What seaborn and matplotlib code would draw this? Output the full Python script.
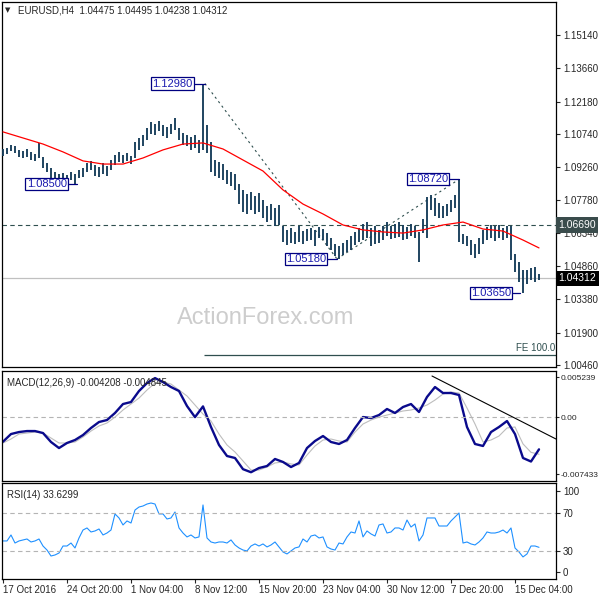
import numpy as np
import pandas as pd
import matplotlib
matplotlib.use('Agg')
import matplotlib.pyplot as plt
import matplotlib.transforms as mtransforms
import seaborn as sns

# EURUSD H4 bars (one entry per two candles)
bar_high = [1.1007, 1.1011, 1.1025, 1.1020, 1.1003, 1.0998, 1.1007, 1.0994, 1.0985, 1.1034,
            1.0971, 1.0945, 1.0922, 1.0905, 1.0896, 1.0900, 1.0891, 1.0905, 1.0896, 1.0914,
            1.0922, 1.0945, 1.0954, 1.0936, 1.0927, 1.0945, 1.0931, 1.0958, 1.0980, 1.0994,
            1.0980, 1.0989, 1.0976, 1.1038, 1.1056, 1.1069, 1.1100, 1.1127, 1.1118, 1.1132,
            1.1114, 1.1105, 1.1118, 1.1145, 1.1100, 1.1078, 1.1069, 1.1060, 1.1069, 1.1047,
            1.1298, 1.1114, 1.1038, 1.0958, 1.0949, 1.0940, 1.0914, 1.0905, 1.0896, 1.0851,
            1.0825, 1.0807, 1.0816, 1.0798, 1.0811, 1.0780, 1.0753, 1.0762, 1.0745, 1.0758,
            1.0664, 1.0647, 1.0656, 1.0638, 1.0664, 1.0642, 1.0651, 1.0656, 1.0647, 1.0660,
            1.0651, 1.0633, 1.0611, 1.0584, 1.0575, 1.0589, 1.0602, 1.0620, 1.0638, 1.0656,
            1.0673, 1.0682, 1.0656, 1.0664, 1.0647, 1.0664, 1.0682, 1.0664, 1.0673, 1.0682,
            1.0669, 1.0660, 1.0673, 1.0664, 1.0638, 1.0696, 1.0793, 1.0802, 1.0789, 1.0767,
            1.0753, 1.0762, 1.0780, 1.0802, 1.0872, 1.0629, 1.0620, 1.0602, 1.0584, 1.0611,
            1.0647, 1.0660, 1.0669, 1.0664, 1.0669, 1.0656, 1.0664, 1.0664, 1.0540, 1.0504,
            1.0469, 1.0469, 1.0478, 1.0482, 1.04495]
bar_low = [1.0976, 1.0985, 1.0998, 1.0989, 1.0971, 1.0967, 1.0971, 1.0958, 1.0954, 1.0967,
           1.0922, 1.0905, 1.0878, 1.0869, 1.0856, 1.0865, 1.0856, 1.0869, 1.0850, 1.0878,
           1.0882, 1.0905, 1.0914, 1.0887, 1.0882, 1.0896, 1.0887, 1.0914, 1.0936, 1.0949,
           1.0945, 1.0954, 1.0940, 1.0967, 1.1003, 1.1020, 1.1047, 1.1074, 1.1069, 1.1087,
           1.1065, 1.1056, 1.1074, 1.1091, 1.1047, 1.1025, 1.1020, 1.1003, 1.1011, 1.0989,
           1.1003, 1.0989, 1.0905, 1.0887, 1.0878, 1.0869, 1.0851, 1.0842, 1.0825, 1.0762,
           1.0727, 1.0718, 1.0736, 1.0718, 1.0727, 1.0700, 1.0682, 1.0691, 1.0664, 1.0669,
           1.0593, 1.0580, 1.0589, 1.0584, 1.0593, 1.0584, 1.0598, 1.0602, 1.0575, 1.0611,
           1.0602, 1.0575, 1.0558, 1.0531, 1.0518, 1.0535, 1.0549, 1.0558, 1.0580, 1.0593,
           1.0602, 1.0611, 1.0575, 1.0584, 1.0589, 1.0602, 1.0620, 1.0607, 1.0611, 1.0616,
           1.0602, 1.0607, 1.0620, 1.0611, 1.0504, 1.0633, 1.0611, 1.0736, 1.0709, 1.0700,
           1.0700, 1.0709, 1.0727, 1.0745, 1.0593, 1.0584, 1.0575, 1.0535, 1.0522, 1.0540,
           1.0584, 1.0602, 1.0611, 1.0598, 1.0611, 1.0602, 1.0611, 1.0513, 1.0460, 1.0415,
           1.0365, 1.0406, 1.0424, 1.0415, 1.04238]

# moving average (red)
ma_idx = [0, 5, 10, 15, 20, 25, 30, 35, 40, 45, 50, 55, 60, 65, 70, 75, 80, 85, 90, 95,
          100, 105, 110, 115, 120, 125, 130, 134]
ma_values = [1.1083, 1.1056, 1.1029, 1.0994, 1.0954, 1.0940, 1.0940, 1.0967, 1.1003, 1.1029,
             1.1034, 1.1007, 1.0958, 1.0909, 1.0825, 1.0762, 1.0718, 1.0669, 1.0647, 1.0638,
             1.0633, 1.0647, 1.0669, 1.0682, 1.0651, 1.0642, 1.0602, 1.0567]

# MACD(12,26,9), every second bar
macd_main = [-0.00321, -0.00221, -0.00195, -0.00182, -0.00182, -0.00208, -0.00325, -0.00404, -0.00338, -0.00299,
             -0.00234, -0.00142, -0.00064, -0.00038, 0.00054, 0.00171, 0.00197, 0.00341, 0.00445, 0.00510,
             0.00458, 0.00393, 0.00341, 0.00145, 0.00000, 0.00140, -0.00129, -0.00364, -0.00508, -0.00534,
             -0.00680, -0.00720, -0.00665, -0.00639, -0.00547, -0.00586, -0.00652, -0.00599, -0.00404, -0.00312,
             -0.00247, -0.00325, -0.00351, -0.00299, -0.00142, 0.00001, -0.00012, 0.00027, 0.00106, 0.00054,
             0.00132, 0.00171, 0.00067, 0.00263, 0.00393, 0.00315, 0.00315, 0.00289, -0.00129, -0.00351,
             -0.00377, -0.00195, -0.00129, -0.00051, -0.00221, -0.00534, -0.00580, -0.00421]
macd_signal = [-0.00338, -0.00286, -0.00221, -0.00208, -0.00195, -0.00208, -0.00273, -0.00338, -0.00338, -0.00325,
               -0.00260, -0.00182, -0.00116, -0.00077, 0.00000, 0.00093, 0.00171, 0.00249, 0.00354, 0.00445,
               0.00458, 0.00432, 0.00354, 0.00276, 0.00158, 0.00040, -0.00051, -0.00221, -0.00364, -0.00456,
               -0.00573, -0.00691, -0.00691, -0.00652, -0.00599, -0.00586, -0.00612, -0.00625, -0.00495, -0.00377,
               -0.00299, -0.00286, -0.00312, -0.00325, -0.00195, -0.00090, -0.00038, 0.00000, 0.00027, 0.00054,
               0.00080, 0.00093, 0.00119, 0.00158, 0.00223, 0.00302, 0.00328, 0.00315, 0.00119, -0.00090,
               -0.00325, -0.00299, -0.00247, -0.00142, -0.00129, -0.00350, -0.00460, -0.00485]

# RSI(14), one per bar
rsi = [40.4, 40.4, 46.8, 38.2, 40.4, 41.5, 42.5, 39.3, 40.4, 42.5,
       35.0, 30.7, 24.3, 25.4, 27.5, 35.0, 35.0, 38.2, 32.9, 43.6,
       52.1, 54.3, 50.0, 51.1, 53.2, 46.8, 48.9, 52.1, 69.3, 65.0,
       57.5, 61.8, 59.6, 73.5, 76.7, 77.8, 79.9, 81.0, 79.9, 69.3,
       69.3, 63.9, 65.0, 71.4, 54.3, 48.9, 44.7, 46.8, 43.6, 44.7,
       78.9, 43.6, 39.3, 38.2, 39.3, 39.3, 38.2, 41.5, 36.1, 32.9,
       30.7, 29.7, 35.0, 37.2, 35.0, 37.2, 34.0, 36.1, 39.3, 34.0,
       28.6, 26.5, 29.7, 32.9, 34.0, 42.5, 39.3, 45.7, 46.8, 43.6,
       44.7, 34.0, 31.8, 30.7, 38.2, 37.2, 44.7, 50.0, 48.9, 61.8,
       44.7, 51.1, 47.9, 45.7, 57.5, 58.6, 48.9, 50.0, 54.3, 54.3,
       52.1, 62.8, 55.3, 58.6, 40.4, 46.8, 65.0, 65.0, 65.0, 56.4,
       56.4, 56.4, 61.8, 66.0, 70.3, 38.2, 39.3, 37.2, 36.1, 39.3,
       43.6, 50.0, 48.9, 48.9, 50.0, 52.1, 48.9, 54.3, 32.9, 28.6,
       23.3, 26.5, 35.0, 35.0, 33.6]

price_ticks = [1.00460, 1.01900, 1.03380, 1.04860, 1.06340, 1.07780,
               1.09260, 1.10740, 1.12180, 1.13660, 1.15140]
x_ticks = [0, 16, 32, 48, 64, 80, 96, 112, 128]
x_labels = ['17 Oct 2016', '24 Oct 20:00', '1 Nov 04:00', '8 Nov 12:00', '15 Nov 20:00',
            '23 Nov 04:00', '30 Nov 12:00', '7 Dec 20:00', '15 Dec 04:00']

# swing points for the labels: (bar, price, text, box centre bar, connector start)
swings = [(50.5, 1.1298, '1.12980', 42.4, 47.6),
          (18.5, 1.0850, '1.08500', 10.9, 16.0),
          (83.5, 1.0518, '1.05180', 75.8, 81.0),
          (114.0, 1.0872, '1.08720', 106.3, 111.5),
          (129.3, 1.0365, '1.03650', 122.0, 127.2)]

sns.set_style('white')
plt.rcParams['font.family'] = ['Liberation Sans', 'DejaVu Sans']
plt.rcParams['font.size'] = 7

BAR = '#173d5a'
DARK = '#2f4f4f'
XLIM = (-0.25, 138.25)

fig = plt.figure(figsize=(6, 6), dpi=100)
ax = fig.add_axes([2/600, 1 - 367/600, 554/600, 365/600])
ax2 = fig.add_axes([2/600, 1 - 480.5/600, 554/600, 110/600])
ax3 = fig.add_axes([2/600, 1 - 579/600, 554/600, 96/600])

# ---- price panel
idx = np.arange(len(bar_high))
ax.vlines(idx, bar_low, bar_high, color=BAR, lw=1.35, zorder=3)
sns.lineplot(x=ma_idx, y=ma_values, ax=ax, color='red', linewidth=0.9, zorder=4)

ax.axhline(1.0669, color=DARK, lw=0.8, ls=(0, (4, 3)), zorder=2)
ax.axhline(1.04312, color='#c0c0c0', lw=0.9, zorder=1)
ax.hlines(1.0092, 50.25, XLIM[1], color=DARK, lw=0.9)
ax.plot([50.5, 83.5], [1.1298, 1.0518], color=DARK, lw=0.8, ls=(0, (2, 3)))
ax.plot([83.5, 114.0], [1.0518, 1.0872], color=DARK, lw=0.8, ls=(0, (2, 3)))

for bx, py, txt, cx, ex in swings:
    ax.plot([ex, bx], [py, py], color='#000080', lw=0.9, zorder=5)
    ax.text(cx, py, txt, ha='center', va='center', fontsize=8, color='#1c1cb0', zorder=6,
            bbox=dict(boxstyle='square,pad=0.1', fc='white', ec='#000080', lw=0.9))

ax.text(0.998, 1.0124, 'FE 100.0', transform=mtransforms.blended_transform_factory(ax.transAxes, ax.transData),
        ha='right', va='center', color=DARK, fontsize=7)
ax.text(0.4765, 0.134, 'ActionForex.com', transform=ax.transAxes, ha='center', va='center',
        fontsize=17, color='#cdcdcd', zorder=0)
ax.text(0.006, 0.978, '▼', transform=ax.transAxes, ha='left', va='center', fontsize=5, family=['DejaVu Sans'])
ax.text(0.029, 0.978, 'EURUSD,H4  1.04475 1.04495 1.04238 1.04312', transform=ax.transAxes,
        ha='left', va='center', fontsize=7)

ax.set_xlim(XLIM)
ax.set_ylim(1.00373, 1.16608)
ax.set_yticks(price_ticks)
ax.set_yticklabels(['%.5f' % p for p in price_ticks])
ax.set_xticks([])

blend = mtransforms.blended_transform_factory(ax.transAxes, ax.transData)
ax.text(1.004, 1.0669, '1.06690', transform=blend, ha='left', va='center', color='white', fontsize=7.5,
        bbox=dict(boxstyle='square,pad=0.25', fc='#3a4c4c', ec='none'), zorder=10, clip_on=False)
ax.text(1.004, 1.04312, '1.04312', transform=blend, ha='left', va='center', color='white', fontsize=7.5,
        bbox=dict(boxstyle='square,pad=0.25', fc='black', ec='none'), zorder=10, clip_on=False)

# ---- MACD panel
midx = np.arange(0, len(bar_high), 2)
sns.lineplot(x=midx, y=macd_signal, ax=ax2, color='#bdbdbd', linewidth=0.8)
sns.lineplot(x=midx, y=macd_main, ax=ax2, color='#0a0a8c', linewidth=1.7)
ax2.axhline(0, color='#b4b4b4', lw=0.8, ls=(0, (4, 3)))
ax2.plot([107.25, XLIM[1]], [0.00537, -0.00286], color='black', lw=0.8)
ax2.text(0.009, 0.93, 'MACD(12,26,9) -0.004208 -0.004845', transform=ax2.transAxes, ha='left', va='top', fontsize=7)
ax2.set_xlim(XLIM)
ax2.set_ylim(-0.00828, 0.00609)
ax2.set_yticks([-0.007433, 0, 0.005239])
ax2.set_yticklabels(['-0.007433', '0.00', '0.005239'])
ax2.set_xticks([])

# ---- RSI panel
sns.lineplot(x=idx, y=rsi, ax=ax3, color='#1e90ff', linewidth=0.8)
for lvl in (30, 70):
    ax3.axhline(lvl, color='#b4b4b4', lw=0.8, ls=(0, (4, 3)))
ax3.text(0.009, 0.93, 'RSI(14) 33.6299', transform=ax3.transAxes, ha='left', va='top', fontsize=7)
ax3.set_xlim(XLIM)
ax3.set_ylim(-0.3, 102.4)
ax3.set_yticks([7.2, 30, 70, 93.9])
ax3.set_yticklabels(['0', '30', '70', '100'])
ax3.set_xticks(x_ticks)
ax3.set_xticklabels(x_labels)
for lab in ax3.get_xticklabels():
    lab.set_ha('left')
ax3.tick_params(axis='x', bottom=True, direction='out', length=3, pad=1.5, labelsize=7)

for a in (ax, ax2, ax3):
    a.set_xlabel('')
    a.set_ylabel('')
    a.yaxis.tick_right()
    a.tick_params(axis='y', right=True, left=False, direction='out', length=3, pad=2, labelsize=7)
    for s in a.spines.values():
        s.set_color('black')
        s.set_linewidth(0.9)
ax2.tick_params(axis='y', labelsize=6.0, pad=1.0, length=2.5)

fig.savefig('out.png', dpi=100)
